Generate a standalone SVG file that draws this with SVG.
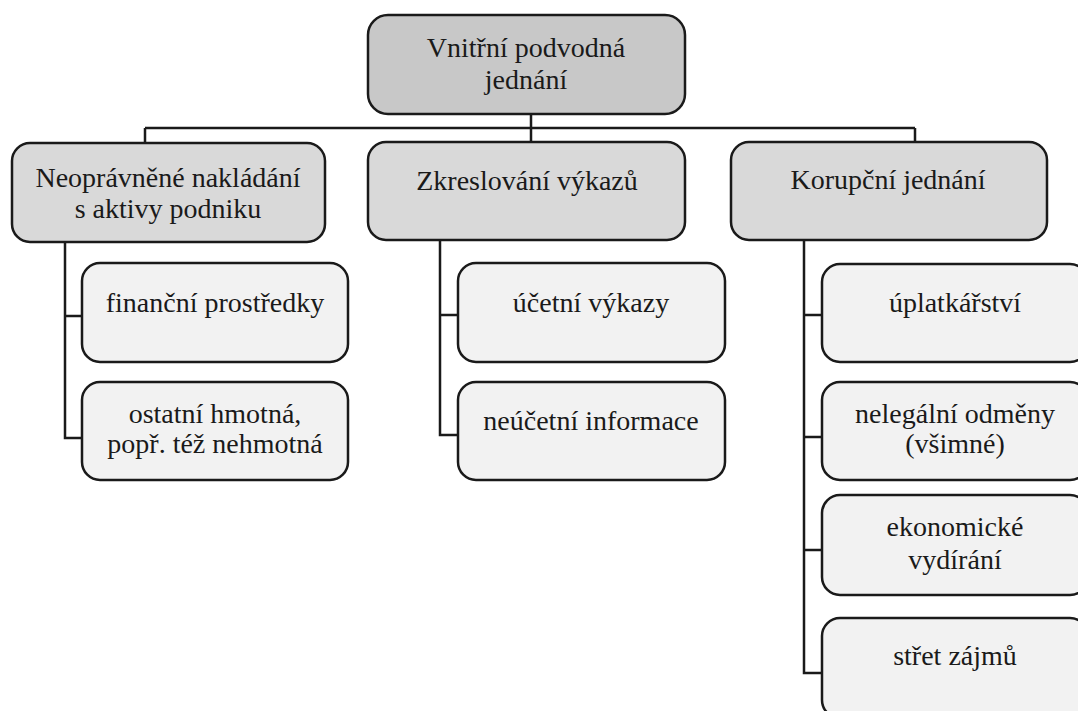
<svg xmlns="http://www.w3.org/2000/svg" width="1078" height="711" viewBox="0 0 1078 711">
<style>
rect{stroke:#1a1a1a;stroke-width:2.5}
.l0{fill:#c8c8c8}
.l1{fill:#d9d9d9}
.l2{fill:#f2f2f2}
text{font-size:28px;fill:#1a1a1a;text-anchor:middle}
#connectors path{fill:none;stroke:#1a1a1a;stroke-width:2.5}
</style>
<rect x="0" y="0" width="1078" height="711" fill="#ffffff" style="stroke:none"/>
<g id="connectors">
<path d="M531 114V128M145 128H915M145 128V143M531 128V143M915 128V142"/>
<path d="M65 242V438H82M65 316H82"/>
<path d="M440 240V435H458M440 315H458"/>
<path d="M804 240V673H822M804 315H822M804 437H822M804 550H822"/>
</g>
<g id="root" font-family="Liberation Serif"><rect class="l0" x="368" y="15" width="317" height="99" rx="20"/><text x="526" y="57">Vnitřní podvodná</text><text x="526" y="89">jednání</text></g>
<g id="n1" font-family="Times New Roman"><rect class="l1" x="12" y="143" width="313" height="99" rx="18"/><text x="168" y="187">Neoprávněné nakládání</text><text x="168" y="218">s aktivy podniku</text></g>
<g id="n2" font-family="Times New Roman"><rect class="l1" x="368" y="142" width="317" height="98" rx="18"/><text x="527" y="190">Zkreslování výkazů</text></g>
<g id="n3" font-family="serif"><rect class="l1" x="731" y="142" width="316" height="98" rx="18"/><text x="888" y="189">Korupční jednání</text></g>
<g id="n11" font-family="Liberation Serif, serif"><rect class="l2" x="82" y="263" width="266" height="99" rx="18"/><text x="215" y="312">finanční prostředky</text></g>
<g id="n12" font-family="Liberation Serif, serif"><rect class="l2" x="82" y="382" width="266" height="98" rx="18"/><text x="215" y="423">ostatní hmotná,</text><text x="215" y="453">popř. též nehmotná</text></g>
<g id="n21" font-family="Liberation Serif"><rect class="l2" x="458" y="263" width="267" height="99" rx="18"/><text x="591" y="312">účetní výkazy</text></g>
<g id="n22" font-family="Liberation Serif"><rect class="l2" x="458" y="382" width="267" height="98" rx="18"/><text x="591" y="430">neúčetní informace</text></g>
<g id="n31" font-family="Times New Roman"><rect class="l2" x="822" y="264" width="266" height="98" rx="18"/><text x="955" y="312">úplatkářství</text></g>
<g id="n32" font-family="Times New Roman"><rect class="l2" x="822" y="382" width="266" height="98" rx="18"/><text x="955" y="423">nelegální odměny</text><text x="955" y="453">(všimné)</text></g>
<g id="n33" font-family="serif"><rect class="l2" x="822" y="495" width="266" height="100" rx="18"/><text x="955" y="536">ekonomické</text><text x="955" y="569">vydírání</text></g>
<g id="n34" font-family="Liberation Serif"><rect class="l2" x="822" y="618" width="266" height="100" rx="18"/><text x="955" y="665">střet zájmů</text></g>
</svg>
